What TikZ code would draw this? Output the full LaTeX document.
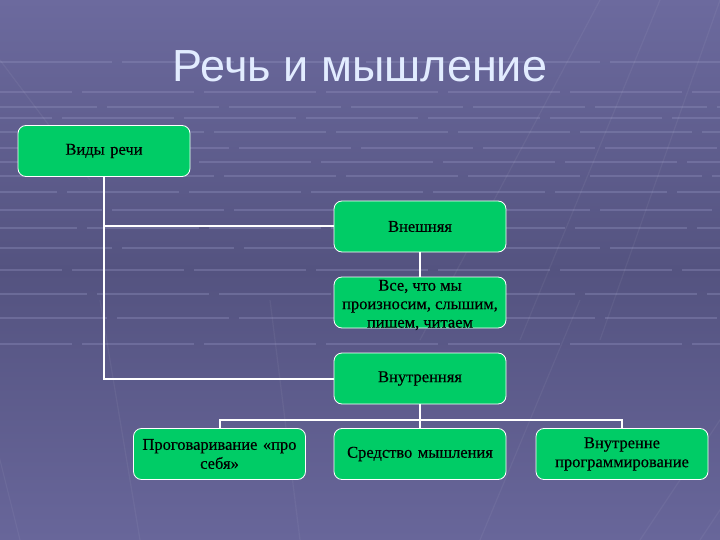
\documentclass[tikz,border=0pt]{standalone}
\usepackage{fontspec}
\setmainfont{Liberation Serif}
\newfontfamily\boxfont{Liberation Serif}[FakeBold=0.4]
\newfontfamily\titlefont{Liberation Sans}
\usetikzlibrary{calc}
\definecolor{bgtop}{RGB}{108,106,158}
\definecolor{bgmid}{RGB}{84,83,128}
\definecolor{bgbot}{RGB}{104,102,154}
\definecolor{gridc}{RGB}{140,140,185}
\definecolor{boxgreen}{RGB}{0,204,102}
\definecolor{titlec}{RGB}{226,236,255}
\tikzset{
  box/.style={draw=white, line width=0.8pt, fill=boxgreen, rounded corners=8pt,
    minimum width=172pt, minimum height=51pt, inner sep=2pt, text width=168pt,
    align=center, font=\boxfont\fontsize{16.5}{19}\selectfont, text=black},
  txt/.style={align=center, inner sep=0pt, font=\boxfont\fontsize{16.5}{18.5}\selectfont, text=black},
  conn/.style={draw=white, line width=2pt},
  gridline/.style={draw=gridc, line width=1.6pt, opacity=0.4},
  diag/.style={draw=white, line width=1.2pt, opacity=0.05}
}
\begin{document}
\begin{tikzpicture}[x=1pt,y=-1pt]
\useasboundingbox (0,0) rectangle (720,540);
% background
\shade[top color=bgtop, bottom color=bgbot, middle color=bgmid] (0,0) rectangle (720,540);
% brick-like grid
\foreach \yy/\off in {62/0, 92/40, 107/15, 118/60, 132/30, 148/5, 162/45, 176/20, 192/55, 210/10, 228/35, 248/0, 270/50, 294/25, 318/5, 344/40}{
  \draw[gridline, dash pattern=on 112pt off 10pt, dash phase=\off pt] (0,\yy) -- (720,\yy);
}
% faint perspective lines
\foreach \xa/\xb in {20/-80, 140/60, 300/230, 480/540, 640/760, 700/820}{
  \draw[diag] (\xa,540) -- (\xb+40,300);
}
\foreach \xa/\xb in {600/420, 660/520, 720/600}{
  \draw[diag] (\xa,0) -- (\xb,340);
}
\draw[diag] (0,60) -- (90,180);
% title
\node[font=\titlefont\fontsize{45}{50}\selectfont, text=titlec, inner sep=0pt, anchor=base] (title) at (360,82) {Речь и мышление};
% boxes
\node[box] (vid) at (104,151) {Виды речи};
\node[box] (ext) at (420,226.5) {Внешняя};
\node[box, text width=0pt, inner sep=0pt] (all) at (420,302.5) {};
\node[txt] (alltxt) at ($(all.center)+(0,2.5)$) {Все, что мы\\произносим, слышим,\\пишем, читаем};
\node[box] (int) at (420,378.5) {Внутренняя};
\node[box] (b1) at (219.5,454) {Проговаривание «про\\себя»};
\node[box] (b2) at (420,454) {Средство мышления};
\node[box] (b3) at (622,454) {Внутренне\\программирование};
\coordinate (j) at (420,420);
% connectors
\draw[conn] (vid.south) |- (ext.west);
\draw[conn] (vid.south) |- (int.west);
\draw[conn] (ext.south) -- (all.north);
\draw[conn] (int.south) -- (j);
\draw[conn] (j) -| (b1.north);
\draw[conn] (j) -| (b3.north);
\draw[conn] (j) -- (b2.north);
\end{tikzpicture}
\end{document}
